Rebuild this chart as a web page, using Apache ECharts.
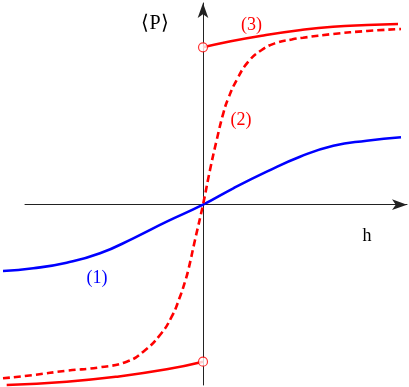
<!DOCTYPE html>
<html><head><meta charset="utf-8">
<script src="https://cdn.jsdelivr.net/npm/echarts@6/dist/echarts.min.js"></script>
<style>html,body{margin:0;padding:0;background:#fff}#c{width:409px;height:387px}</style>
</head><body><div id="c"></div>
<script>
// Curve (1): blue, slow response  [h, P]
var curve1 = [[-1.0,-0.3315],[-0.8485,-0.318],[-0.6815,-0.29],[-0.515,-0.243],[-0.3485,-0.168],[-0.1815,-0.085],[0,0],[0.1515,0.082],[0.3185,0.165],[0.485,0.24],[0.6515,0.295],[0.8185,0.32],[0.99,0.337]];
// Curve (2): red dashed, steep response
var curve2 = [[-1.0,-0.868],[-0.8485,-0.8515],[-0.6815,-0.83],[-0.515,-0.813],[-0.3815,-0.785],[-0.2985,-0.735],[-0.215,-0.6515],[-0.1565,-0.56],[-0.115,-0.46],[-0.09,-0.385],[-0.0735,-0.3265],[-0.04,-0.1765],[0,0],[0.035,0.1735],[0.0685,0.3235],[0.1015,0.457],[0.1265,0.532],[0.1685,0.6235],[0.2265,0.715],[0.2935,0.7735],[0.36,0.807],[0.4435,0.826],[0.50,0.835],[0.65,0.8535],[0.82,0.8685],[0.99,0.8785]];
// Curve (3): red solid with jump at h = 0
var curve3neg = [[-0.9815,-0.9015],[-0.6815,-0.885],[-0.4315,-0.86],[-0.1815,-0.823],[0,-0.785]];
var curve3pos = [[0,0.787],[0.1265,0.815],[0.2935,0.845],[0.49,0.8735],[0.65,0.89],[0.82,0.8985],[0.975,0.9035]];
var jumpEnds = [[0,-0.785],[0,0.787]];

var chart = echarts.init(document.getElementById('c'), null, {renderer:'canvas'});
var serif = "Liberation Serif";
var axisLine = {show:true, onZero:true, symbol:['none','arrow'], symbolSize:[8,15], lineStyle:{color:'#222', width:1}};
function lbl(x, y, t, c, fs) {
  return {type:'text', x:x, y:y, style:{text:t, fontFamily:serif, fontSize:fs || 18, fill:c, align:'center', verticalAlign:'middle'}};
}
chart.setOption({
  animation:false,
  grid:[
    {left:3, top:4.7, width:400, height:382.3},
    {left:25, top:3, width:382, height:382}
  ],
  xAxis:[
    {gridIndex:0, type:'value', min:-1, max:1, show:false},
    {gridIndex:1, type:'value', min:-178, max:204, axisLine:axisLine, axisTick:{show:false}, axisLabel:{show:false}, splitLine:{show:false}}
  ],
  yAxis:[
    {gridIndex:0, type:'value', min:-0.9115, max:1, show:false},
    {gridIndex:1, type:'value', min:-180.3, max:201.7, axisLine:axisLine, axisTick:{show:false}, axisLabel:{show:false}, splitLine:{show:false}}
  ],
  series:[
    {type:'line', data:curve1, smooth:0.5, showSymbol:false, lineStyle:{color:'#0000ff', width:2.6}, z:3},
    {type:'line', data:curve2, smooth:0.5, showSymbol:false, lineStyle:{color:'#ff0000', width:2.6, type:[7,4]}, z:3},
    {type:'line', data:curve3neg, smooth:0.5, showSymbol:false, lineStyle:{color:'#ff0000', width:2.6}, z:3},
    {type:'line', data:curve3pos, smooth:0.5, showSymbol:false, lineStyle:{color:'#ff0000', width:2.6}, z:3},
    {type:'scatter', data:jumpEnds, symbol:'circle', symbolSize:9, itemStyle:{color:'#ffffff', borderColor:'#ff0000', borderWidth:1.2}, z:5}
  ],
  graphic:[
    lbl(155, 23.5, '\u27E8P\u27E9', '#000', 20),
    lbl(367, 236.5, 'h', '#000'),
    lbl(251.5, 25, '(3)', '#ff0000'),
    lbl(241, 120, '(2)', '#ff0000'),
    lbl(97, 278, '(1)', '#0000ff')
  ]
});
</script></body></html>
